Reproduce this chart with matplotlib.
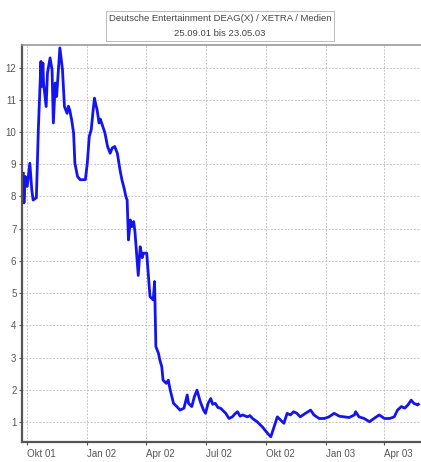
import numpy as np
import pandas as pd
import matplotlib
matplotlib.use("Agg")
import matplotlib.pyplot as plt

# Kursverlauf
dates = [
    "2001-09-25", "2001-09-26", "2001-09-28", "2001-10-01", "2001-10-05", "2001-10-08",
    "2001-10-10", "2001-10-15", "2001-10-18", "2001-10-22", "2001-10-23", "2001-10-25",
    "2001-10-26", "2001-10-30", "2001-11-01", "2001-11-05", "2001-11-08", "2001-11-10",
    "2001-11-13", "2001-11-15", "2001-11-18", "2001-11-20", "2001-11-24", "2001-11-27",
    "2001-12-01", "2001-12-03", "2001-12-05", "2001-12-08", "2001-12-11", "2001-12-13",
    "2001-12-17", "2001-12-21", "2001-12-29", "2002-01-01", "2002-01-04", "2002-01-07",
    "2002-01-10", "2002-01-12", "2002-01-14", "2002-01-16", "2002-01-19", "2002-01-21",
    "2002-01-24", "2002-01-28", "2002-02-01", "2002-02-05", "2002-02-08", "2002-02-12",
    "2002-02-16", "2002-02-20", "2002-02-23", "2002-02-27", "2002-03-01", "2002-03-03",
    "2002-03-05", "2002-03-08", "2002-03-10", "2002-03-13", "2002-03-15", "2002-03-20",
    "2002-03-23", "2002-03-26", "2002-03-28", "2002-04-02", "2002-04-07", "2002-04-12",
    "2002-04-14", "2002-04-16", "2002-04-20", "2002-04-22", "2002-04-25", "2002-04-27",
    "2002-05-02", "2002-05-05", "2002-05-08", "2002-05-13", "2002-05-18", "2002-05-23",
    "2002-05-29", "2002-06-03", "2002-06-05", "2002-06-10", "2002-06-14", "2002-06-18",
    "2002-06-23", "2002-06-28", "2002-07-01", "2002-07-05", "2002-07-09", "2002-07-12",
    "2002-07-16", "2002-07-20", "2002-07-24", "2002-07-28", "2002-08-01", "2002-08-06",
    "2002-08-11", "2002-08-15", "2002-08-19", "2002-08-23", "2002-08-27", "2002-09-03",
    "2002-09-07", "2002-09-11", "2002-09-18", "2002-09-26", "2002-10-04", "2002-10-09",
    "2002-10-14", "2002-10-19", "2002-10-24", "2002-10-29", "2002-11-03", "2002-11-08",
    "2002-11-13", "2002-11-18", "2002-11-23", "2002-12-01", "2002-12-09", "2002-12-14",
    "2002-12-22", "2002-12-30", "2003-01-06", "2003-01-14", "2003-01-22", "2003-01-29",
    "2003-02-06", "2003-02-14", "2003-02-16", "2003-02-21", "2003-03-01", "2003-03-09",
    "2003-03-16", "2003-03-24", "2003-04-01", "2003-04-09", "2003-04-16", "2003-04-21",
    "2003-04-27", "2003-05-02", "2003-05-07", "2003-05-12", "2003-05-16", "2003-05-22",
    "2003-05-23",
]
kurs = [
    8.72, 7.80, 8.62, 8.31, 9.03, 8.20,
    7.89, 7.96, 10.07, 12.19, 11.41, 12.14,
    11.52, 10.79, 11.83, 12.30, 11.93, 10.28,
    11.52, 11.10, 12.03, 12.61, 11.93, 10.79,
    10.58, 10.80, 10.69, 10.38, 9.97, 9.03,
    8.62, 8.52, 8.52, 9.03, 9.86, 10.07,
    10.69, 11.05, 10.85, 10.69, 10.28, 10.40,
    10.22, 9.97, 9.55, 9.34, 9.50, 9.55,
    9.34, 8.83, 8.52, 8.20, 8.00, 7.89,
    6.65, 7.27, 7.06, 7.22, 6.90, 5.55,
    6.44, 6.10, 6.24, 6.24, 4.89, 4.79,
    5.36, 3.34, 3.13, 2.93, 2.72, 2.30,
    2.20, 2.30, 1.99, 1.58, 1.48, 1.37,
    1.43, 1.84, 1.58, 1.48, 1.79, 1.99,
    1.63, 1.37, 1.27, 1.58, 1.73, 1.55,
    1.58, 1.45, 1.43, 1.35, 1.27, 1.11,
    1.16, 1.25, 1.32, 1.18, 1.22, 1.16,
    1.20, 1.11, 1.01, 0.85, 0.65, 0.54,
    0.85, 1.16, 1.06, 0.96, 1.27, 1.22,
    1.32, 1.27, 1.16, 1.27, 1.37, 1.22,
    1.11, 1.11, 1.16, 1.27, 1.18, 1.16,
    1.14, 1.22, 1.32, 1.16, 1.11, 1.01,
    1.11, 1.22, 1.11, 1.11, 1.16, 1.37,
    1.48, 1.43, 1.53, 1.68, 1.58, 1.53,
    1.55,
]

x_ticks = ["2001-10-01", "2002-01-01", "2002-04-01", "2002-07-01",
           "2002-10-01", "2003-01-01", "2003-04-01"]
x_labels = ["Okt 01", "Jan 02", "Apr 02", "Jul 02", "Okt 02", "Jan 03", "Apr 03"]
y_ticks = list(range(1, 13))

titel = "Deutsche Entertainment DEAG(X) / XETRA / Medien\n25.09.01 bis 23.05.03"

plt.rcParams['font.family'] = ['Liberation Sans Narrow', 'Liberation Sans', 'DejaVu Sans']

t = pd.to_datetime(dates)

fig = plt.figure(figsize=(4.21, 4.62), dpi=100)
ax = fig.add_axes([22 / 421, 20 / 462, 1 - 22 / 421, 397 / 462])

ax.plot(t, kurs, color="#1414f0", lw=2.0)

ax.set_xlim(pd.Timestamp("2001-09-23"), pd.Timestamp("2003-05-27"))
ax.set_ylim(0.38, 12.7)

ax.set_xticks(pd.to_datetime(x_ticks))
ax.set_xticklabels(x_labels, ha="left")
ax.set_yticks(y_ticks)
ax.tick_params(axis="both", labelsize=7, colors="#555555", length=2, width=0.8, pad=2)
ax.tick_params(axis="x", pad=3)

ax.grid(True, color="#c4c4c4", lw=0.7, ls=(0, (2, 1.5)))

for s in ["left", "bottom"]:
    ax.spines[s].set_color("#555555")
    ax.spines[s].set_linewidth(1.6)
ax.spines["top"].set_color("#999999")
ax.spines["top"].set_linewidth(1.2)
ax.spines["right"].set_visible(False)

fig.text(220 / 421, 1 - 26 / 462, titel, ha="center", va="center", fontsize=6.8,
         color="#444444", linespacing=1.9,
         bbox=dict(facecolor="white", edgecolor="#bbbbbb", lw=0.7, boxstyle="square,pad=0.3"))

fig.savefig("out.png", dpi=100)
